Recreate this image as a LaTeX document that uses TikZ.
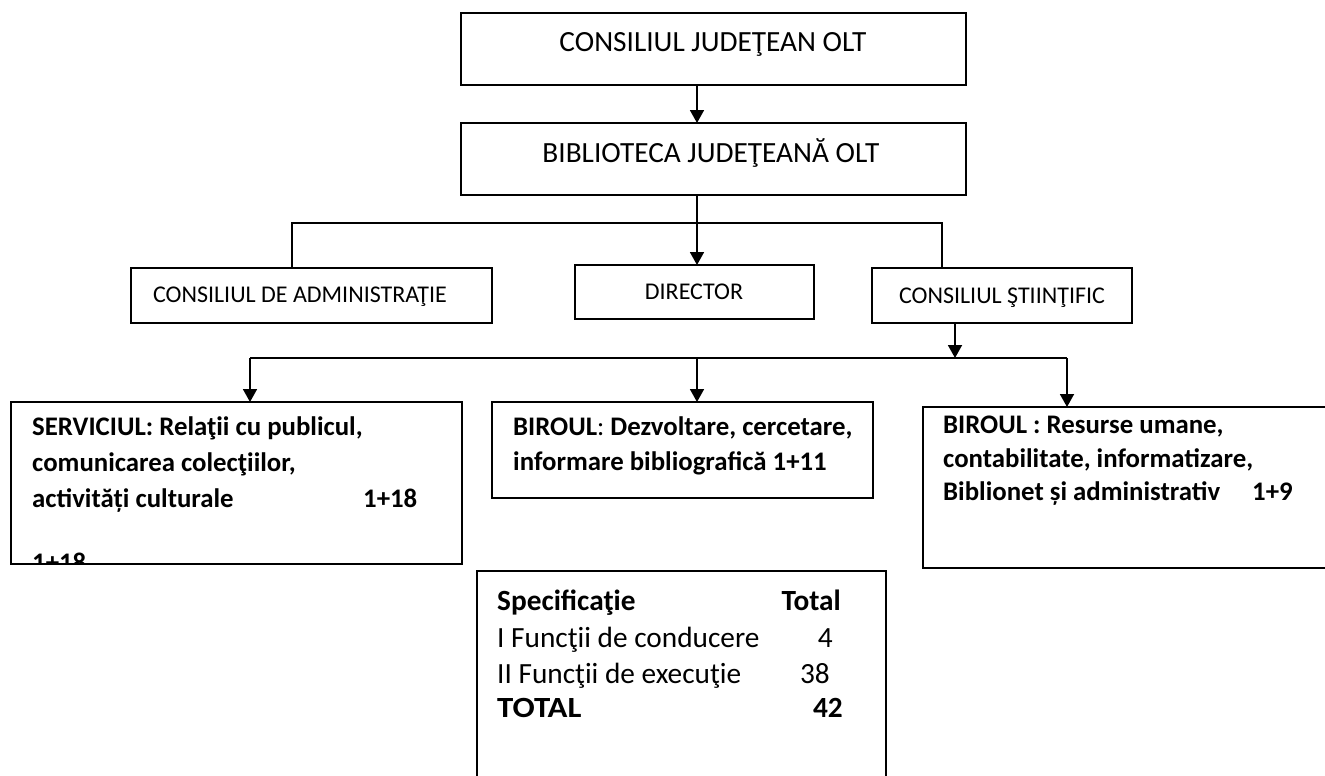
\documentclass[tikz,border=0pt]{standalone}
\usepackage{fontspec}
\setmainfont{Carlito}
\usetikzlibrary{arrows.meta}
\tikzset{
  box/.style={draw=black, line width=1.8pt, inner sep=0pt, outer sep=0pt, rectangle},
  conn/.style={draw=black, line width=1.8pt},
  arr/.style={conn, -{Triangle[width=14pt,length=13pt]}},
  big/.style={inner sep=0pt, font=\fontsize{29.3}{35}\selectfont},
  bigb/.style={inner sep=0pt, font=\fontsize{29.3}{35}\selectfont\bfseries},
  boxb/.style={inner sep=0pt, font=\fontsize{26.8}{33}\selectfont\bfseries},
  small/.style={inner sep=0pt, font=\fontsize{24}{29}\selectfont},
}
\begin{document}
\begin{tikzpicture}[x=1pt,y=-1pt]
\useasboundingbox (0,0) rectangle (1325,776);
\clip (0,0) rectangle (1325,776);
% boxes
\node[box, minimum width=505pt, minimum height=72pt] (b1) at (713.5,49) {};
\node[box, minimum width=505pt, minimum height=72pt] (b2) at (713.5,159) {};
\node[box, minimum width=361pt, minimum height=55pt] (ca) at (311.5,295.5) {};
\node[box, minimum width=239pt, minimum height=54pt] (dir) at (694.5,292) {};
\node[box, minimum width=260pt, minimum height=55pt] (cs) at (1002,295.5) {};
\node[box, minimum width=451pt, minimum height=162pt] (sv) at (236.5,483) {};
\node[box, minimum width=381pt, minimum height=96pt] (bm) at (682.5,450) {};
\node[box, minimum width=430pt, minimum height=161pt] (br) at (1138,487.5) {};
\node[box, minimum width=409pt, minimum height=240pt] (tb) at (681.5,691) {};
% helper coordinates
\coordinate (xc) at (697,0);
\coordinate (xl) at (292,223);
\coordinate (xr) at (942,223);
\coordinate (xs) at (955,0);
\coordinate (bl) at (250,358);
\coordinate (bmid) at (697,358);
\coordinate (brr) at (1067,358);
% connectors
\draw[arr] (b1.south -| xc) -- (b2.north -| xc);
\draw[arr] (b2.south -| xc) -- (dir.north -| xc);
\draw[conn] (ca.north -| xl) -- (xl) -- (xr) -- (cs.north -| xr);
\draw[arr] (cs.south -| xs) -- (bl -| xs);
\draw[conn] (bl) -- (brr);
\draw[arr] (bl) -- (sv.north -| bl);
\draw[arr] (bmid) -- (bm.north -| bmid);
\draw[arr] (brr) -- (br.north -| brr);
% texts top
\node[big, anchor=base] (t1) at (713,52) {CONSILIUL JUDEŢEAN OLT};
\node[big, anchor=base] (t2) at (711,162) {BIBLIOTECA JUDEŢEANĂ OLT};
\node[small, anchor=base] (tca) at (300,302) {CONSILIUL DE ADMINISTRAŢIE};
\node[small, anchor=base] (tdir) at (694,299) {DIRECTOR};
\node[small, anchor=base] (tcs) at (1002,303) {CONSILIUL ŞTIINŢIFIC};
% left box
\node[boxb, anchor=base west] (s1) at (32,435) {SERVICIUL: Relaţii cu publicul,};
\node[boxb, anchor=base west] (s2) at (32,471) {comunicarea colecţiilor,};
\node[boxb, anchor=base west] (s3) at (32,507) {activități culturale};
\node[boxb, anchor=base west] (s3n) at (363,507) {1+18};
\begin{scope}
\clip (sv.north west) rectangle ([yshift=-0.9pt]sv.south east);
\node[boxb, anchor=base west] (s4) at (32,571) {1+18};
\end{scope}
% middle box
\node[boxb, anchor=base west] (m1) at (513,435) {BIROUL\textmd{:} Dezvoltare, cercetare,};
\node[boxb, anchor=base west] (m2) at (513,470) {informare bibliografică 1+11};
% right box
\node[boxb, anchor=base west] (r1) at (943,433) {BIROUL : Resurse umane,};
\node[boxb, anchor=base west] (r2) at (943,467) {contabilitate, informatizare,};
\node[boxb, anchor=base west] (r3) at (943,500) {Biblionet și administrativ};
\node[boxb, anchor=base west] (r3n) at (1252,500) {1+9};
% table
\node[bigb, anchor=base west] (k1) at (497,610) {Specificaţie};
\node[bigb, anchor=base east] (v1) at (841,610) {Total};
\node[big, anchor=base west] (k2) at (497,647) {I Funcţii de conducere};
\node[big, anchor=base east] (v2) at (833,647) {4};
\node[big, anchor=base west] (k3) at (497,683) {II Funcţii de execuţie};
\node[big, anchor=base east] (v3) at (830,683) {38};
\node[bigb, anchor=base west, xscale=1.12, transform shape] (k4) at (497,717) {TOTAL};
\node[bigb, anchor=base east] (v4) at (843,717) {42};
\end{tikzpicture}
\end{document}
